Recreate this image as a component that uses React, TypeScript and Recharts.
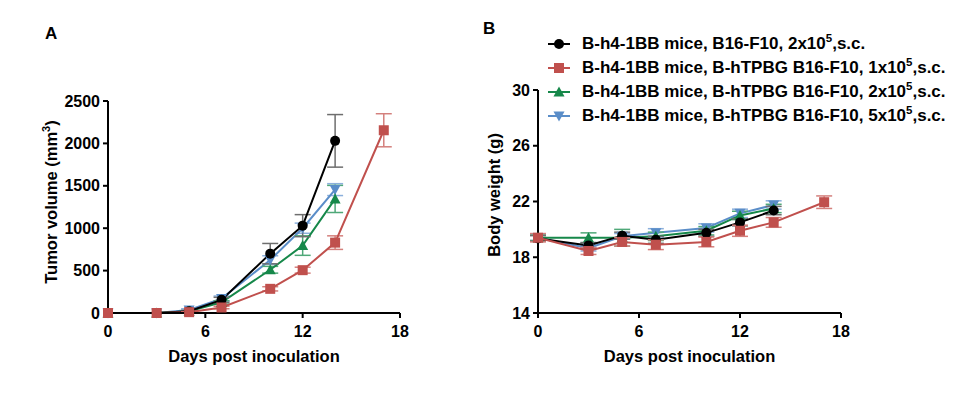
import { ErrorBar, Line, LineChart, XAxis, YAxis } from 'recharts';

const days = [0, 3, 5, 7, 10, 12, 14, 17];

// tumour volume (mm3)
const tumorB16 = [0, 0, 20, 155, 700, 1030, 2030, null];
const tumorB16Err = [0, 0, 10, 30, 120, 130, 310, null];
const tumorT1 = [0, 0, 10, 65, 285, 505, 830, 2155];
const tumorT1Err = [0, 0, 5, 15, 25, 35, 80, 195];
const tumorT2 = [0, 0, 20, 125, 510, 795, 1345, null];
const tumorT2Err = [0, 0, 8, 20, 40, 115, 160, null];
const tumorT5 = [0, 0, 35, 170, 625, 1000, 1455, null];
const tumorT5Err = [0, 0, 15, 30, 50, 60, 70, null];

// body weight (g)
const weightB16 = [19.35, 18.85, 19.55, 19.25, 19.75, 20.5, 21.35, null];
const weightB16Err = [0.2, 0.2, 0.25, 0.25, 0.25, 0.25, 0.3, null];
const weightT1 = [19.4, 18.45, 19.1, 18.9, 19.1, 19.9, 20.5, 21.95];
const weightT1Err = [0.3, 0.25, 0.3, 0.35, 0.35, 0.4, 0.35, 0.45];
const weightT2 = [19.4, 19.4, 19.4, 19.5, 19.9, 21.0, 21.5, null];
const weightT2Err = [0.2, 0.35, 0.6, 0.3, 0.3, 0.3, 0.3, null];
const weightT5 = [19.4, 18.65, 19.5, 19.75, 20.1, 21.15, 21.75, null];
const weightT5Err = [0.2, 0.2, 0.2, 0.3, 0.3, 0.3, 0.3, null];

const xTicks = [0, 6, 12, 18];
const tumorTicks = [0, 500, 1000, 1500, 2000, 2500];
const weightTicks = [14, 18, 22, 26, 30];

const groups = [
  { key: 'b16', name: 'B-h4-1BB mice, B16-F10, 2x10', color: '#000000', err: '#6e6e6e', shape: 'circle' },
  { key: 't1', name: 'B-h4-1BB mice, B-hTPBG B16-F10, 1x10', color: '#c0504d', err: '#d4807d', shape: 'square' },
  { key: 't2', name: 'B-h4-1BB mice, B-hTPBG B16-F10, 2x10', color: '#16884a', err: '#4fa878', shape: 'triangle' },
  { key: 't5', name: 'B-h4-1BB mice, B-hTPBG B16-F10, 5x10', color: '#5a8dc8', err: '#8cb0dc', shape: 'down' },
];

const tumorData = days.map((d, i) => ({
  day: d,
  b16: tumorB16[i], b16Err: tumorB16Err[i],
  t1: tumorT1[i], t1Err: tumorT1Err[i],
  t2: tumorT2[i], t2Err: tumorT2Err[i],
  t5: tumorT5[i], t5Err: tumorT5Err[i],
}));

const weightData = days.map((d, i) => ({
  day: d,
  b16: weightB16[i], b16Err: weightB16Err[i],
  t1: weightT1[i], t1Err: weightT1Err[i],
  t2: weightT2[i], t2Err: weightT2Err[i],
  t5: weightT5[i], t5Err: weightT5Err[i],
}));

const FONT = '"Liberation Sans", Arial, sans-serif';

const Marker = ({ cx, cy, shape, color }: { cx: number; cy: number; shape: string; color: string }) => {
  if (shape === 'circle') return <circle cx={cx} cy={cy} r={5} fill={color} />;
  if (shape === 'square') return <rect x={cx - 5} y={cy - 5} width={10} height={10} fill={color} />;
  if (shape === 'triangle')
    return <path d={`M${cx},${cy - 5.5} L${cx + 5.5},${cy + 4.5} L${cx - 5.5},${cy + 4.5} Z`} fill={color} />;
  return <path d={`M${cx},${cy + 5.5} L${cx + 5.5},${cy - 4.5} L${cx - 5.5},${cy - 4.5} Z`} fill={color} />;
};

const dotFor = (g: (typeof groups)[number]) => (props: any) => {
  const { cx, cy, index } = props;
  if (cx == null || cy == null || props.value == null) return <g key={`${g.key}-${index}`} />;
  return (
    <g key={`${g.key}-${index}`}>
      <Marker cx={cx} cy={cy} shape={g.shape} color={g.color} />
    </g>
  );
};

const tickStyle = { fontSize: 16, fontWeight: 700, fill: '#000', fontFamily: FONT };
const titleStyle = { ...tickStyle, fontSize: 16.5 };
const axisLine = { stroke: '#000', strokeWidth: 2 };

const drawOrder = ['t5', 't2', 'b16', 't1'];

const renderSeries = () =>
  drawOrder.map(k => {
    const g = groups.find(x => x.key === k)!;
    return (
      <Line
        key={g.key}
        dataKey={g.key}
        stroke={g.color}
        strokeWidth={2}
        dot={dotFor(g)}
        activeDot={false}
        isAnimationActive={false}
      >
        <ErrorBar dataKey={`${g.key}Err`} width={8} stroke={g.err} strokeWidth={1.5} direction="y" />
      </Line>
    );
  });

const XTitle = (props: any) => {
  const { x, y, width } = props.viewBox;
  return (
    <text x={x + width / 2} y={y + 49} textAnchor="middle" style={titleStyle}>
      Days post inoculation
    </text>
  );
};

const TumorTitle = () => (
  <text x={57} y={202} transform="rotate(-90 57 202)" textAnchor="middle" style={titleStyle}>
    Tumor volume (mm<tspan dy={-7} fontSize={11}>3</tspan><tspan dy={7}>)</tspan>
  </text>
);

const WeightTitle = () => (
  <text x={60} y={195} transform="rotate(-90 60 195)" textAnchor="middle" style={titleStyle}>
    Body weight (g)
  </text>
);

export default function App() {
  return (
    <div
      style={{
        position: 'absolute',
        left: 0,
        top: 0,
        width: 973,
        height: 398,
        background: '#fff',
        fontFamily: FONT,
      }}
    >
      <div style={{ position: 'absolute', left: 45, top: 24, fontSize: 17, fontWeight: 700 }}>A</div>
      <div style={{ position: 'absolute', left: 483, top: 19, fontSize: 17, fontWeight: 700 }}>B</div>

      <div style={{ position: 'absolute', left: 0, top: 0 }}>
        <LineChart width={440} height={398} data={tumorData} margin={{ top: 101, right: 40, bottom: 45, left: 0 }}>
          <XAxis
            dataKey="day"
            type="number"
            domain={[0, 18]}
            ticks={xTicks}
            height={40}
            tick={tickStyle}
            axisLine={axisLine}
            tickLine={axisLine}
            tickSize={5}
            tickMargin={8}
            label={<XTitle />}
          />
          <YAxis
            type="number"
            domain={[0, 2500]}
            ticks={tumorTicks}
            width={108}
            tick={tickStyle}
            axisLine={axisLine}
            tickLine={axisLine}
            tickSize={5}
            tickMargin={3}
            label={<TumorTitle />}
          />
          {renderSeries()}
        </LineChart>
      </div>

      <div style={{ position: 'absolute', left: 440, top: 0 }}>
        <LineChart width={440} height={398} data={weightData} margin={{ top: 90, right: 39, bottom: 45, left: 0 }}>
          <XAxis
            dataKey="day"
            type="number"
            domain={[0, 18]}
            ticks={xTicks}
            height={40}
            tick={tickStyle}
            axisLine={axisLine}
            tickLine={axisLine}
            tickSize={5}
            tickMargin={8}
            label={<XTitle />}
          />
          <YAxis
            type="number"
            domain={[14, 30]}
            ticks={weightTicks}
            width={98}
            tick={tickStyle}
            axisLine={axisLine}
            tickLine={axisLine}
            tickSize={5}
            tickMargin={3}
            label={<WeightTitle />}
          />
          {renderSeries()}
        </LineChart>
      </div>

      {groups.map((g, i) => (
        <div
          key={g.key}
          style={{
            position: 'absolute',
            left: 546,
            top: 44 + i * 24 - 12,
            height: 24,
            display: 'flex',
            alignItems: 'center',
            fontSize: 17,
            fontWeight: 700,
            whiteSpace: 'nowrap',
          }}
        >
          <svg width={26} height={14} style={{ marginRight: 10 }}>
            <line x1={2} y1={7} x2={24} y2={7} stroke={g.color} strokeWidth={2} />
            <Marker cx={13} cy={7} shape={g.shape} color={g.color} />
          </svg>
          <span>
            {g.name}
            <sup style={{ fontSize: 11.5, verticalAlign: 'baseline', position: 'relative', top: -7 }}>5</sup>,s.c.
          </span>
        </div>
      ))}
    </div>
  );
}
